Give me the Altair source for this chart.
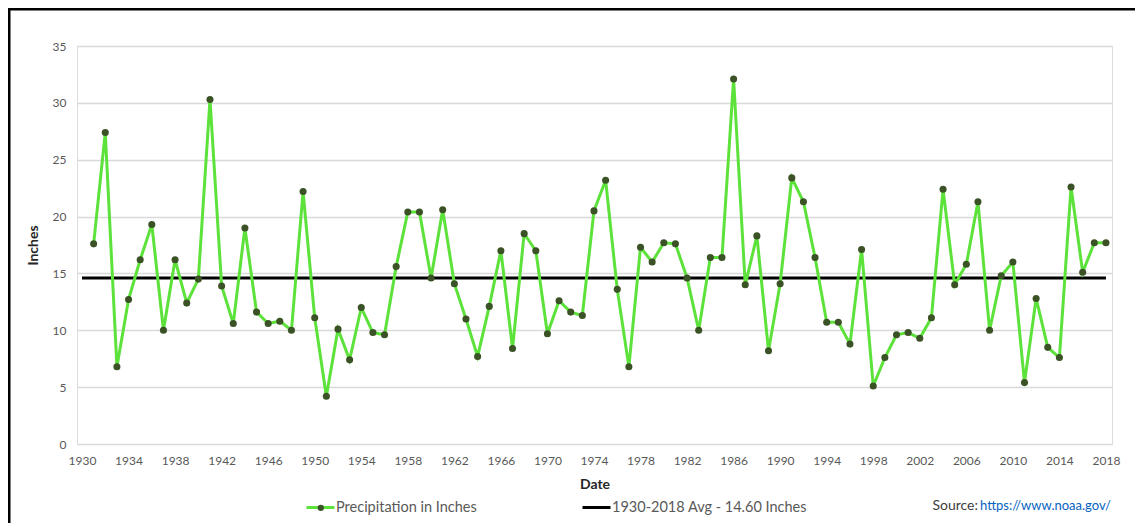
import altair as alt
import pandas as pd

# ---- data ----
years = list(range(1931, 2019))
precip = [
    17.6, 27.4, 6.8, 12.7, 16.2, 19.3, 10.0, 16.2, 12.4, 14.5,   # 1931-1940
    30.3, 13.9, 10.6, 19.0, 11.6, 10.6, 10.8, 10.0, 22.2, 11.1,  # 1941-1950
    4.2, 10.1, 7.4, 12.0, 9.8, 9.6, 15.6, 20.4, 20.4, 14.6,      # 1951-1960
    20.6, 14.1, 11.0, 7.7, 12.1, 17.0, 8.4, 18.5, 17.0, 9.7,     # 1961-1970
    12.6, 11.6, 11.3, 20.5, 23.2, 13.6, 6.8, 17.3, 16.0, 17.7,   # 1971-1980
    17.6, 14.6, 10.0, 16.4, 16.4, 32.1, 14.0, 18.3, 8.2, 14.1,   # 1981-1990
    23.4, 21.3, 16.4, 10.7, 10.7, 8.8, 17.1, 5.1, 7.6, 9.6,      # 1991-2000
    9.8, 9.3, 11.1, 22.4, 14.0, 15.8, 21.3, 10.0, 14.8, 16.0,    # 2001-2010
    5.4, 12.8, 8.5, 7.6, 22.6, 15.1, 17.7, 17.7,                 # 2011-2018
]
avg_years = [1930, 2018]
avg_value = 14.60
series_names = ["Precipitation in Inches", "1930-2018 Avg - 14.60 Inches"]
x_ticks = list(range(1930, 2019, 4))
y_ticks = [0, 5, 10, 15, 20, 25, 30, 35]
source_label = "Source:"
source_link = "https://www.noaa.gov/"

# ---- tables ----
precip_df = pd.DataFrame({"year": years, "value": precip, "series": series_names[0], "dot": series_names[0]})
avg_df = pd.DataFrame({"year": avg_years, "value": [avg_value] * len(avg_years), "series": series_names[1]})
one_row = pd.DataFrame({"k": [0]})

GREEN = "#5de23b"
DOT = "#3b5226"
GRID = "#d9d9d9"
LABEL = "#595959"
FONT = "Lato"

x_scale = alt.Scale(domain=[1929.57, 2018.52], nice=False, zero=False)
y_scale = alt.Scale(domain=[0, 35], nice=False)

x_enc = alt.X(
    "year:Q", scale=x_scale, title="Date",
    axis=alt.Axis(values=x_ticks, format="d", grid=False, domain=False, ticks=False,
                  labelPadding=11, labelColor=LABEL, labelFont=FONT, labelFontSize=12,
                  labelFlush=False, labelOverlap=False,
                  titleFont=FONT, titleFontSize=14, titleFontWeight="bold", titleColor="#262626",
                  titlePadding=11),
)
y_enc = alt.Y(
    "value:Q", scale=y_scale, title="Inches",
    axis=alt.Axis(values=y_ticks, grid=True, gridColor=GRID, gridWidth=1.5, domain=False, ticks=False,
                  labelPadding=11, labelColor=LABEL, labelFont=FONT, labelFontSize=12,
                  titleFont=FONT, titleFontSize=14, titleFontWeight="bold", titleColor="#262626",
                  titlePadding=12),
)

color_enc = alt.Color(
    "series:N",
    scale=alt.Scale(domain=series_names, range=[GREEN, "#000000"]),
    legend=alt.Legend(orient="none", legendX=228, legendY=446, direction="horizontal", title=None,
                      symbolType="stroke", symbolSize=784, symbolStrokeWidth=3,
                      labelFont=FONT, labelFontSize=14.5, labelColor=LABEL, labelOffset=0,
                      labelLimit=400, columnPadding=99, padding=0),
)

# frame of the picture (top and left edges), kept inside the drawing area
frame_left = alt.Chart(one_row).mark_rect(fill="#000000", clip=False).encode(
    x=alt.value(-69), x2=alt.value(-66.5), y=alt.value(-38), y2=alt.value(477)
)
frame_top = alt.Chart(one_row).mark_rect(fill="#000000", clip=False).encode(
    x=alt.value(-69), x2=alt.value(1058), y=alt.value(-38), y2=alt.value(-35.5)
)

precip_line = alt.Chart(precip_df).mark_line(strokeWidth=3).encode(x=x_enc, y=y_enc, color=color_enc)
avg_line = alt.Chart(avg_df).mark_line(strokeWidth=3).encode(x=x_enc, y=y_enc, color=color_enc)
points = alt.Chart(precip_df).mark_point(filled=True, size=50, color=DOT, opacity=1).encode(
    x=x_enc, y=y_enc,
    shape=alt.Shape("dot:N", scale=alt.Scale(range=["circle"]),
                    legend=alt.Legend(orient="none", legendX=238.8, legendY=456.8, title=None,
                                      symbolSize=40, symbolFillColor=DOT, symbolStrokeColor=DOT,
                                      symbolOpacity=1, labelExpr="''", padding=0)),
)

src1 = alt.Chart(one_row).mark_text(text=source_label, align="right", baseline="middle",
                                    font=FONT, fontSize=14, color="#404040").encode(
    x=alt.value(901), y=alt.value(460))
src2 = alt.Chart(one_row).mark_text(text=source_link, align="right", baseline="middle",
                                    font=FONT, fontSize=13, color="#0563c1").encode(
    x=alt.value(1034), y=alt.value(460))

chart = alt.layer(frame_left, frame_top, avg_line, precip_line, points, src1, src2).properties(
    width=1035, height=398,
    autosize=alt.AutoSizeParams(type="none"),
    padding={"left": 69, "top": 38, "right": 23, "bottom": 79},
).configure_view(stroke=None).configure(background="#ffffff")

chart.save("out.html", embed_options={"renderer": "svg", "actions": False})
